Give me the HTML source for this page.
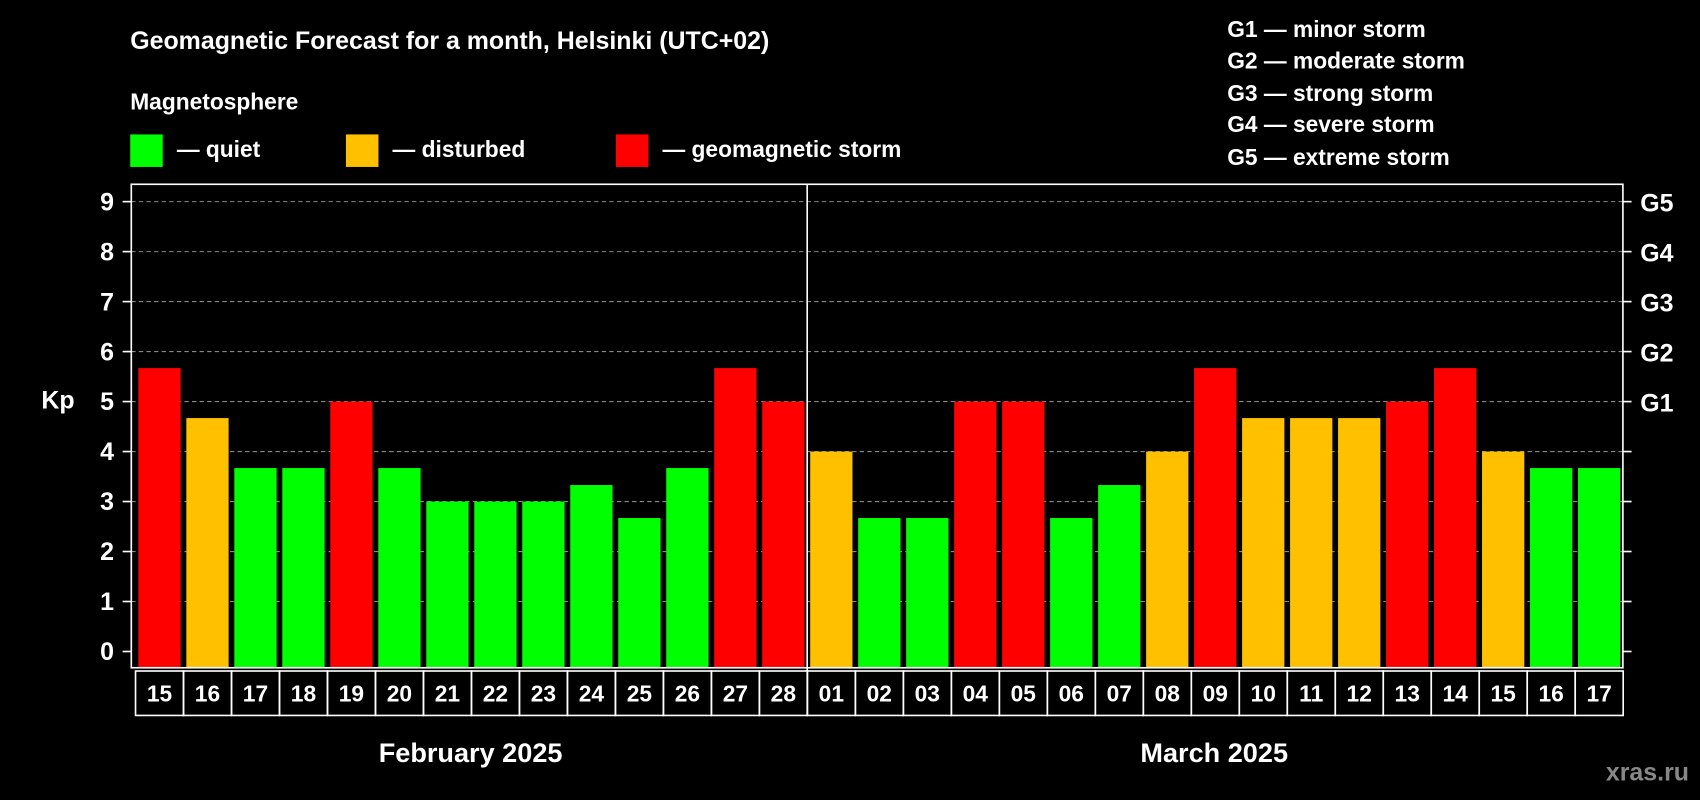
<!DOCTYPE html>
<html><head><meta charset="utf-8"><style>
html,body{margin:0;padding:0;background:#000;}
svg{display:block;font-family:"Liberation Sans",sans-serif;font-weight:bold;}
</style></head><body>
<svg id="chart" width="1700" height="800" viewBox="0 0 1568 738" xmlns="http://www.w3.org/2000/svg">
<rect x="0" y="0" width="1568" height="738" fill="#000"/>
<text x="120" y="45" fill="#fff" font-size="23">Geomagnetic Forecast for a month, Helsinki (UTC+02)</text>
<text x="120" y="101" fill="#fff" font-size="21">Magnetosphere</text>
<g><rect x="120" y="124" width="30" height="30" fill="#00ff00"/><text x="163" y="145" fill="#fff" font-size="21">— quiet</text></g>
<g><rect x="319" y="124" width="30" height="30" fill="#ffc000"/><text x="362" y="145" fill="#fff" font-size="21">— disturbed</text></g>
<g><rect x="568" y="124" width="30" height="30" fill="#ff0000"/><text x="611" y="145" fill="#fff" font-size="21">— geomagnetic storm</text></g>
<g fill="#fff" font-size="21">
<text x="1132" y="34">G1 — minor storm</text>
<text x="1132" y="63">G2 — moderate storm</text>
<text x="1132" y="93">G3 — strong storm</text>
<text x="1132" y="122">G4 — severe storm</text>
<text x="1132" y="152">G5 — extreme storm</text>
</g>
<text x="38" y="377" fill="#fff" font-size="23">Kp</text>
<g id="grid"></g>
<g id="bars"></g>
<rect x="121" y="170" width="1376" height="446" fill="none" stroke="#fff" stroke-width="1.5"/>
<line x1="744.5" y1="170" x2="744.5" y2="660" stroke="#fff" stroke-width="1.5"/>
<g id="axes"></g>
<g id="xlabels"></g>
<text x="434" y="703" fill="#fff" font-size="25" text-anchor="middle">February 2025</text>
<text x="1120" y="703" fill="#fff" font-size="25" text-anchor="middle">March 2025</text>
<text x="1558" y="720" fill="#888" font-size="23" text-anchor="end">xras.ru</text>
</svg>
<script>
const days = ["15","16","17","18","19","20","21","22","23","24","25","26","27","28","01","02","03","04","05","06","07","08","09","10","11","12","13","14","15","16","17"];
const kpValues = [5.67,4.67,3.67,3.67,5,3.67,3,3,3,3.33,2.67,3.67,5.67,5,4,2.67,2.67,5,5,2.67,3.33,4,5.67,4.67,4.67,4.67,5,5.67,4,3.67,3.67];
const yTicks = [0,1,2,3,4,5,6,7,8,9];
const gLabels = ["","","","","","G1","G2","G3","G4","G5"];
const NS="http://www.w3.org/2000/svg";
function yScale(v){return 601 - v*46.11;}
function xCenter(i){return 147 + i*44.27;}
function mk(tag,attrs,parent,text){const e=document.createElementNS(NS,tag);for(const k in attrs)e.setAttribute(k,attrs[k]);if(text!==undefined)e.textContent=text;parent.appendChild(e);return e;}
function color(v){return v>=5?"#ff0000":(v>=4?"#ffc000":"#00ff00");}
const grid=document.getElementById("grid"),bars=document.getElementById("bars"),axes=document.getElementById("axes"),xl=document.getElementById("xlabels");
yTicks.forEach((t,i)=>{
  const y=yScale(t);
  if(t>0){const g=mk("line",{x1:121,x2:1497,y1:y,y2:y,stroke:"#888","stroke-dasharray":"4,3","stroke-width":1},grid);
  
  }
  const tl=mk("line",{x1:113,x2:121,y1:y,y2:y,stroke:"#fff","stroke-width":1.5},axes);
  
  
  const tr=mk("line",{x1:1497,x2:1505,y1:y,y2:y,stroke:"#fff","stroke-width":1.5},axes);
  
  
  const lab=mk("text",{x:105,y:y+8,fill:"#fff","font-size":23,"text-anchor":"end"},axes,String(t));
  
  
  if(gLabels[i]){const gl=mk("text",{x:1513,y:y+9,fill:"#fff","font-size":23},axes,gLabels[i]);
  
  }
});
days.forEach((d,i)=>{
  const cx=xCenter(i),v=kpValues[i],y=yScale(v);
  const b=mk("rect",{x:cx-19.5,y:y,width:39,height:616-y,fill:color(v)},bars);
  
  
  const bx=mk("rect",{x:cx-22.1,y:619,width:44.27,height:41,fill:"none",stroke:"#fff","stroke-width":1.5},xl);
  
  
  const t=mk("text",{x:cx,y:647,fill:"#fff","font-size":21,"text-anchor":"middle"},xl,d);
  
  
});
</script>
</body></html>
